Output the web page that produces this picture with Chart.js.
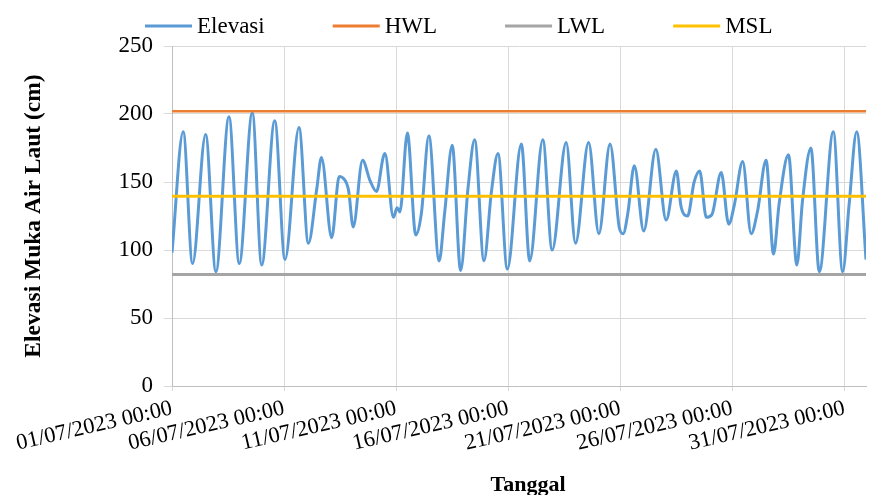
<!DOCTYPE html>
<html>
<head>
<meta charset="utf-8">
<title>Elevasi Muka Air Laut</title>
<script src="https://cdn.jsdelivr.net/npm/chart.js@4/dist/chart.umd.min.js"></script>
<style>
  html, body { margin: 0; padding: 0; background: #fff; }
</style>
</head>
<body>
<canvas id="grafik" width="875" height="495"></canvas>
<script>
// Jam sejak 01/07/2023 00:00 dan elevasi (cm) pada titik-titik balik yang terbaca dari grafik
const jam = [0, 12, 22, 36, 47, 61, 72, 86, 96, 110, 121, 136, 146, 155, 160, 171, 179, 183, 189, 194,
  204, 212, 219, 226, 228, 237, 241, 244, 252, 261, 267, 275, 286, 292, 300, 309, 317, 324, 334, 342,
  349, 359, 374, 383, 397, 407, 422, 432, 446, 457, 469, 479, 483, 488, 495, 505, 518, 529, 540, 545,
  552, 559, 565, 572, 578, 588, 596, 602, 611, 620, 627, 636, 644, 650, 660, 669, 675, 684, 693, 708,
  718, 725, 733, 743];
const elevasi = [98, 187, 90, 185, 84, 198, 90, 201, 89, 195, 93, 190, 105, 145, 168, 109, 154, 153, 144, 117,
  166, 151, 143, 168, 171, 124, 131, 128, 186, 111, 127, 184, 92, 128, 177, 85, 146, 181, 92, 143,
  171, 86, 178, 92, 181, 100, 179, 105, 179, 112, 178, 116, 112, 127, 162, 114, 174, 122, 158, 132,
  125, 150, 158, 124, 126, 157, 119, 133, 165, 112, 129, 166, 97, 134, 170, 89, 136, 175, 84, 187,
  84, 134, 187, 93];

// Garis acuan (cm)
const HWL = 202;
const LWL = 82;
const MSL = 139.5;

// Label sumbu X
const jamLabel = [0, 120, 240, 360, 480, 600, 720];
const labelTanggal = ["01/07/2023 00:00", "06/07/2023 00:00", "11/07/2023 00:00", "16/07/2023 00:00",
  "21/07/2023 00:00", "26/07/2023 00:00", "31/07/2023 00:00"];

const jamAkhir = jam[jam.length - 1];
const serif = "'Liberation Serif', 'Times New Roman', serif";

function garisDatar(nilai) {
  return [{ x: 0, y: nilai }, { x: jamAkhir, y: nilai }];
}

// Legenda dan judul sumbu X digambar sendiri supaya posisinya sama seperti Excel
const legendaManual = {
  id: "legendaManual",
  afterDraw(chart) {
    const ctx = chart.ctx;
    ctx.save();
    ctx.font = "23px " + serif;
    ctx.textBaseline = "middle";
    ctx.fillStyle = "#000";
    let x = 145;
    const y = 26;
    chart.data.datasets.forEach((ds) => {
      ctx.strokeStyle = ds.borderColor;
      ctx.lineWidth = 3;
      ctx.beginPath();
      ctx.moveTo(x, y);
      ctx.lineTo(x + 47, y);
      ctx.stroke();
      ctx.fillText(ds.label, x + 52, y + 1);
      x += 52 + ctx.measureText(ds.label).width + 68;
    });

    // Judul sumbu X
    ctx.font = "bold 22px " + serif;
    ctx.textAlign = "center";
    ctx.fillText("Tanggal", 528, 485);
    ctx.restore();
  },
};

new Chart(document.getElementById("grafik"), {
  type: "line",
  data: {
    datasets: [
      {
        label: "Elevasi",
        data: jam.map((j, i) => ({ x: j, y: elevasi[i] })),
        borderColor: "#5B9BD5",
        borderWidth: 3,
        pointRadius: 0,
        cubicInterpolationMode: "monotone",
        order: 4,
      },
      { label: "HWL", data: garisDatar(HWL), borderColor: "#ED7D31", borderWidth: 2.5, pointRadius: 0, order: 3 },
      { label: "LWL", data: garisDatar(LWL), borderColor: "#A5A5A5", borderWidth: 3, pointRadius: 0, order: 2 },
      { label: "MSL", data: garisDatar(MSL), borderColor: "#FFC000", borderWidth: 3, pointRadius: 0, order: 1 },
    ],
  },
  options: {
    responsive: false,
    animation: false,
    layout: { padding: { top: 46, right: 9, left: 16, bottom: 0 } },
    plugins: {
      legend: { display: false },
      tooltip: { enabled: false },
    },
    scales: {
      x: {
        type: "linear",
        min: 0,
        max: jamAkhir,
        afterBuildTicks: (scale) => {
          scale.ticks = jamLabel.map((v) => ({ value: v }));
        },
        afterFit: (scale) => {
          scale.height = 109;
        },
        grid: { color: "#d9d9d9", tickLength: 5 },
        border: { color: "#bfbfbf" },
        ticks: {
          autoSkip: false,
          minRotation: 13,
          maxRotation: 13,
          padding: 4,
          color: "#000",
          font: { family: serif, size: 22.5 },
          callback: (v) => labelTanggal[jamLabel.indexOf(v)],
        },
      },
      y: {
        min: 0,
        max: 250,
        afterFit: (scale) => {
          scale.width = 156;
        },
        grid: { color: "#d9d9d9", tickLength: 8 },
        border: { color: "#bfbfbf" },
        ticks: {
          stepSize: 50,
          padding: 11,
          color: "#000",
          font: { family: serif, size: 23 },
        },
        title: {
          display: true,
          text: "Elevasi Muka Air Laut (cm)",
          color: "#000",
          padding: { top: 4, bottom: 0 },
          font: { family: serif, size: 23.5, weight: "bold" },
        },
      },
    },
  },
  plugins: [legendaManual],
});
</script>
</body>
</html>
